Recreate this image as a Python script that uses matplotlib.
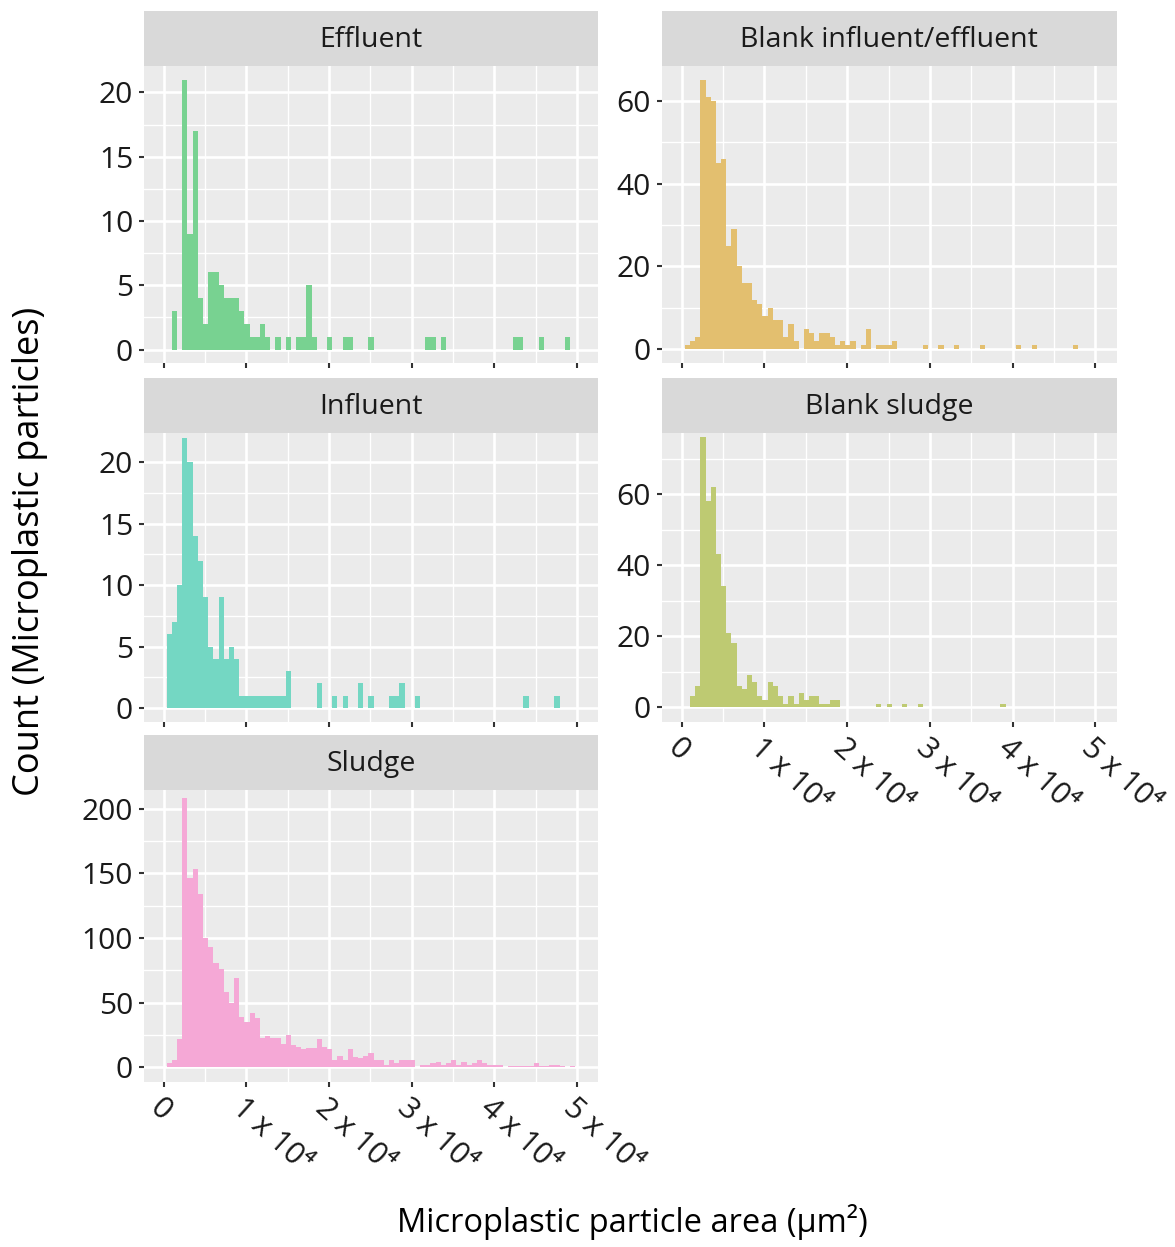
import numpy as np
import matplotlib.pyplot as plt

plt.rcParams['font.family'] = ['Open Sans', 'DejaVu Sans']

# shared bins (micrometre^2)
bin_start = 400
bin_width = 625

# counts per bin
effluent = [0, 3, 0, 21, 9, 17, 4, 2, 6, 6, 5, 4, 4, 4, 3, 2, 1, 1, 2, 1,
            0, 1, 0, 1, 0, 1, 1, 5, 1, 0, 0, 1, 0, 0, 1, 1, 0, 0, 0, 1,
            0, 0, 0, 0, 0, 0, 0, 0, 0, 0, 1, 1, 0, 1, 0, 0, 0, 0, 0, 0,
            0, 0, 0, 0, 0, 0, 0, 1, 1, 0, 0, 0, 1, 0, 0, 0, 0, 1, 0]
blank_ie = [1, 2, 3, 65, 61, 60, 45, 46, 25, 29, 20, 16, 16, 12, 11, 8, 10, 7, 7, 3,
            6, 2, 0, 5, 4, 2, 4, 4, 3, 1, 2, 1, 2, 0, 1, 5, 0, 1, 1, 1,
            2, 0, 0, 0, 0, 0, 1, 0, 0, 1, 0, 0, 1, 0, 0, 0, 0, 1, 0, 0,
            0, 0, 0, 0, 1, 0, 0, 1, 0, 0, 0, 0, 0, 0, 0, 1, 0, 0, 0]
influent = [6, 7, 10, 22, 20, 14, 12, 9, 5, 4, 9, 4, 5, 4, 1, 1, 1, 1, 1, 1,
            1, 1, 1, 3, 0, 0, 0, 0, 0, 2, 0, 0, 1, 0, 1, 0, 0, 2, 0, 1,
            0, 0, 0, 1, 1, 2, 0, 0, 1, 0, 0, 0, 0, 0, 0, 0, 0, 0, 0, 0,
            0, 0, 0, 0, 0, 0, 0, 0, 0, 1, 0, 0, 0, 0, 0, 1, 0, 0, 0]
blank_sludge = [0, 3, 6, 76, 58, 62, 43, 34, 21, 18, 6, 5, 9, 7, 3, 2, 7, 6, 3, 1,
                3, 1, 4, 2, 3, 3, 1, 1, 2, 2, 0, 0, 0, 0, 0, 0, 0, 1, 0, 1,
                0, 0, 1, 0, 0, 1, 0, 0, 0, 0, 0, 0, 0, 0, 0, 0, 0, 0, 0, 0,
                0, 1, 0, 0, 0, 0, 0, 0, 0, 0, 0, 0, 0, 0, 0, 0, 0, 0, 0]
sludge = [3, 6, 22, 208, 146, 153, 134, 100, 93, 81, 76, 58, 50, 69, 39, 35, 42, 38, 23, 24,
          23, 23, 18, 25, 17, 16, 14, 15, 15, 22, 16, 14, 6, 9, 6, 14, 8, 7, 9, 11,
          6, 6, 2, 6, 3, 6, 6, 6, 0, 2, 2, 3, 4, 2, 3, 6, 2, 4, 2, 3,
          6, 3, 2, 2, 2, 0, 1, 1, 1, 1, 1, 3, 1, 1, 2, 2, 1, 0, 1]

x_ticks = [0, 10000, 20000, 30000, 40000, 50000]
x_labels = ['0', '1 x 10\u2074', '2 x 10\u2074', '3 x 10\u2074', '4 x 10\u2074', '5 x 10\u2074']

W, H = 1175, 1247
fig = plt.figure(figsize=(W / 100, H / 100), dpi=100)


def rect(x0, y0, x1, y1):
    return [x0 / W, 1 - y1 / H, (x1 - x0) / W, (y1 - y0) / H]


# title, counts, colour, panel box (px), y limits, y major step, x labels
panels = [
    ("Effluent", effluent, '#78D291', (143.5, 66, 598, 363), (-1.05, 22.05), 5, False),
    ("Blank influent/effluent", blank_ie, '#E3BF6F', (661.5, 66, 1116.5, 363), (-3.3, 68.4), 20, False),
    ("Influent", influent, '#74D7C3', (143.5, 433, 598, 722), (-1.15, 22.4), 5, False),
    ("Blank sludge", blank_sludge, '#BECA72', (661.5, 433, 1116.5, 722), (-4.2, 77.2), 20, True),
    ("Sludge", sludge, '#F5A8D6', (143.5, 790, 598, 1082), (-11.3, 214.3), 50, True),
]

for title, counts, col, box, ylim, step, show_x in panels:
    x0, y0, x1, y1 = box
    ax = fig.add_axes(rect(x0, y0, x1, y1))
    ax.set_facecolor('#EBEBEB')
    edges = bin_start + bin_width * np.arange(len(counts))
    ax.bar(edges, counts, width=bin_width, align='edge', color=col, linewidth=0)
    ax.set_xlim(-2420, 52540)
    ax.set_ylim(*ylim)
    ax.set_xticks(x_ticks)
    ax.set_xticks(np.arange(5000, 50000, 10000), minor=True)
    yt = np.arange(0, ylim[1], step)
    ax.set_yticks(yt)
    ax.set_yticks(np.arange(step / 2, ylim[1], step), minor=True)
    ax.set_yticklabels([str(int(v)) for v in yt])
    ax.grid(which='major', color='white', linewidth=1.9)
    ax.grid(which='minor', color='white', linewidth=1.0)
    ax.set_axisbelow(True)
    for s in ax.spines.values():
        s.set_visible(False)
    ax.tick_params(which='major', length=3.5, width=1.5, color='#333333',
                   labelsize=21.5, labelcolor='#1A1A1A', pad=4)
    ax.tick_params(which='minor', length=0)
    if show_x:
        ax.set_xticklabels(x_labels, rotation=-42, ha='left', va='top',
                           rotation_mode='anchor', fontsize=22)
    else:
        ax.tick_params(axis='x', labelbottom=False)

    sx = fig.add_axes(rect(x0, y0 - 55, x1, y0))
    sx.set_facecolor('#D9D9D9')
    sx.set_xticks([])
    sx.set_yticks([])
    for s in sx.spines.values():
        s.set_visible(False)
    sx.text(0.5, 0.47, title, ha='center', va='center', fontsize=20.5,
            color='#1A1A1A', transform=sx.transAxes)

fig.text(30 / W, 1 - 551 / H, 'Count (Microplastic particles)', rotation=90,
         ha='center', va='center', fontsize=26)
fig.text(632 / W, 1 - 1222 / H, 'Microplastic particle area (\u00b5m\u00b2)',
         ha='center', va='center', fontsize=23.5)

fig.savefig('out.png', dpi=100, facecolor='white')
